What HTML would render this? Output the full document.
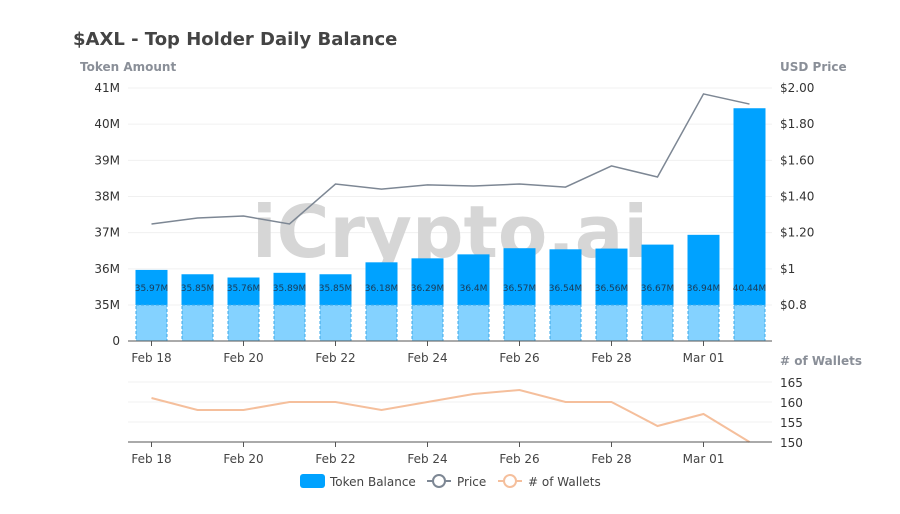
<!DOCTYPE html>
<html><head><meta charset="utf-8"><style>
body{margin:0;background:#fff;font-family:"DejaVu Sans","Liberation Sans",sans-serif;}
svg text{font-family:"DejaVu Sans","Liberation Sans",sans-serif;}
</style></head><body>
<svg id="c" width="900" height="510" xmlns="http://www.w3.org/2000/svg">
<text x="73" y="45" font-size="18" font-weight="bold" fill="#444">$AXL - Top Holder Daily Balance</text>
<text x="80" y="71" font-size="12" font-weight="bold" fill="#8a8f98">Token Amount</text>
<text x="780" y="71" font-size="12" font-weight="bold" fill="#8a8f98">USD Price</text>
<text x="780" y="365" font-size="12" font-weight="bold" fill="#8a8f98"># of Wallets</text>
<g id="grid"></g>
<text x="450" y="257" font-size="72" font-weight="bold" fill="#d6d6d6" text-anchor="middle">iCrypto.ai</text>
<g id="bars"></g><g id="lines"></g><g id="axes"></g>
<g>
<g><rect x="300" y="474" width="25" height="14" rx="3" fill="#00a2ff"/><text x="330" y="486" font-size="12" fill="#444">Token Balance</text></g>
<g><line x1="427" y1="481" x2="451" y2="481" stroke="#7d8794" stroke-width="2"/><circle cx="439" cy="481" r="6" fill="#fff" stroke="#7d8794" stroke-width="2"/><text x="457" y="486" font-size="12" fill="#444">Price</text></g>
<g><line x1="498" y1="481" x2="522" y2="481" stroke="#f5bf9c" stroke-width="2"/><circle cx="510" cy="481" r="6" fill="#fff" stroke="#f5bf9c" stroke-width="2"/><text x="528" y="486" font-size="12" fill="#444"># of Wallets</text></g>
</g>
</svg>
<script>
const dates=["Feb 18","Feb 19","Feb 20","Feb 21","Feb 22","Feb 23","Feb 24","Feb 25","Feb 26","Feb 27","Feb 28","Feb 29","Mar 01","Mar 02"];
const balances=[35.97,35.85,35.76,35.89,35.85,36.18,36.29,36.4,36.57,36.54,36.56,36.67,36.94,40.44];
const barLabels=["35.97M","35.85M","35.76M","35.89M","35.85M","36.18M","36.29M","36.4M","36.57M","36.54M","36.56M","36.67M","36.94M","40.44M"];
const prices=[1.248,1.281,1.292,1.248,1.469,1.441,1.464,1.458,1.469,1.452,1.569,1.508,1.967,1.911];
const wallets=[161,158,158,160,160,158,160,162,163,160,160,154,157,150];
const leftTicks=[35,36,37,38,39,40,41];
const leftLabels=["35M","36M","37M","38M","39M","40M","41M"];
const priceTicks=[0.8,1,1.2,1.4,1.6,1.8,2.0];
const priceLabels=["$0.8","$1","$1.20","$1.40","$1.60","$1.80","$2.00"];
const walletTicks=[150,155,160,165];
const xTickIdx=[0,2,4,6,8,10,12];
const xTickLabels=["Feb 18","Feb 20","Feb 22","Feb 24","Feb 26","Feb 28","Mar 01"];
const NS="http://www.w3.org/2000/svg";
function X(i){return 151.5+i*46;}
function YL(v){return 305-(v-35)*36.17;}
function YP(p){return 305-(p-0.8)*180.85;}
function YW(w){return 442-(w-150)*4;}
function mk(t,a,p,txt){const e=document.createElementNS(NS,t);for(const k in a)e.setAttribute(k,a[k]);if(txt!==undefined)e.textContent=txt;document.getElementById(p).appendChild(e);return e;}
leftTicks.forEach((v,i)=>{
 const g=mk('line',{x1:128,x2:772,y1:YL(v),y2:YL(v),stroke:'#f0f0f0'},'grid');
 
 
 const t=mk('text',{x:120,y:YL(v)+4,'font-size':12,fill:'#333','text-anchor':'end'},'axes',leftLabels[i]);
 
 
});
const z=mk('text',{x:120,y:345,'font-size':12,fill:'#333','text-anchor':'end'},'axes','0');


priceTicks.forEach((p,i)=>{
 const t=mk('text',{x:780,y:YP(p)+4,'font-size':12,fill:'#333'},'axes',priceLabels[i]);
 
 
});
walletTicks.forEach(w=>{
 const g=mk('line',{x1:128,x2:772,y1:YW(w),y2:YW(w),stroke:'#f0f0f0'},'grid');
 
 
 const t=mk('text',{x:780,y:YW(w)+5,'font-size':12,fill:'#333'},'axes',String(w));
 
 
});
balances.forEach((v,i)=>{
 const x=X(i)-16;
 const b=mk('rect',{x:x,y:YL(v),width:32,height:305-YL(v),fill:'#00a2ff'},'bars');
 
 
 const b2=mk('rect',{x:x+0.5,y:305,width:31,height:36,fill:'#84d2ff',stroke:'#3aa8e8','stroke-dasharray':'3,2'},'bars');
 
 
 const t=mk('text',{x:X(i),y:291,'font-size':9,fill:'#1a3a55','text-anchor':'middle'},'bars',barLabels[i]);
 
 
});
const pl=mk('polyline',{points:prices.map((p,i)=>X(i)+','+YP(p)).join(' '),fill:'none',stroke:'#7d8794','stroke-width':1.5},'lines');


const wl=mk('polyline',{points:wallets.map((w,i)=>X(i)+','+YW(w)).join(' '),fill:'none',stroke:'#f5bf9c','stroke-width':2},'lines');


[341,442].forEach((y,k)=>{
 const a=mk('line',{x1:128,x2:772,y1:y,y2:y,stroke:'#555'},'axes');
 
 
 xTickIdx.forEach((ix,j)=>{
  const tk=mk('line',{x1:X(ix),x2:X(ix),y1:y,y2:y+5,stroke:'#555'},'axes');
  
  
  const t=mk('text',{x:X(ix),y:y+21,'font-size':12,fill:'#444','text-anchor':'middle'},'axes',xTickLabels[j]);
  
  
 });
});
</script>
</body></html>
